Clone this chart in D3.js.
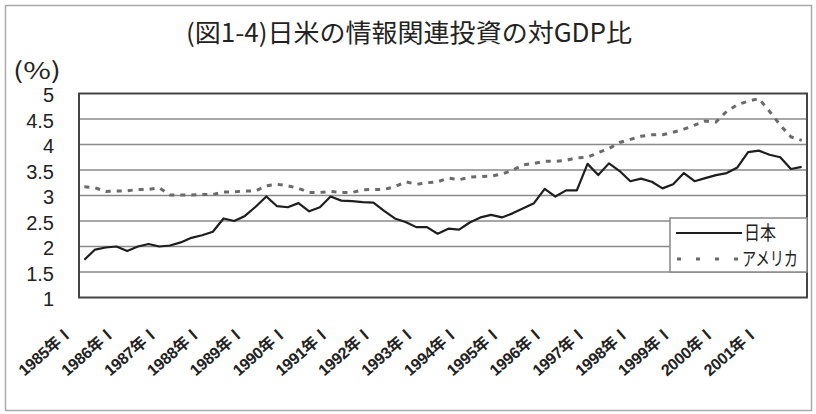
<!DOCTYPE html>
<html>
<head>
<meta charset="utf-8">
<script src="https://cdn.jsdelivr.net/npm/d3@7"></script>
<style>
   body { margin: 0; background: #fff; }
   svg { display: block; font-family: "Noto Sans CJK JP", "Liberation Sans", sans-serif; }
</style>
</head>
<body>
<div id="chart"></div>
<script>
const years = d3.range(1985, 2002),
quarterNames = ['Ⅰ', 'Ⅱ', 'Ⅲ', 'Ⅳ'],
quarters = years.flatMap(y => quarterNames.map(q => y + '年' + q)),
japan = [
   1.74, 1.94, 1.98, 2.0, 1.91, 2.0, 2.05, 2.0, 2.02, 2.08,
   2.17, 2.22, 2.29, 2.55, 2.5, 2.6, 2.78, 2.98, 2.79, 2.77,
   2.85, 2.69, 2.77, 2.98, 2.9, 2.89, 2.87, 2.86, 2.7, 2.55,
   2.48, 2.38, 2.38, 2.25, 2.35, 2.33, 2.47, 2.57, 2.62, 2.57,
   2.65, 2.75, 2.85, 3.13, 2.98, 3.1, 3.1, 3.62, 3.4, 3.63,
   3.48, 3.28, 3.33, 3.27, 3.14, 3.22, 3.44, 3.28, 3.34, 3.4,
   3.44, 3.55, 3.85, 3.88, 3.8, 3.75, 3.52, 3.56
],
usa = [
   3.17, 3.15, 3.08, 3.09, 3.09, 3.12, 3.12, 3.15, 3.01, 3.01,
   3.01, 3.02, 3.02, 3.07, 3.07, 3.09, 3.09, 3.19, 3.22, 3.19,
   3.14, 3.06, 3.06, 3.08, 3.06, 3.06, 3.11, 3.12, 3.12, 3.17,
   3.27, 3.22, 3.25, 3.27, 3.34, 3.31, 3.36, 3.37, 3.38, 3.42,
   3.5, 3.6, 3.63, 3.67, 3.67, 3.69, 3.74, 3.75, 3.84, 3.92,
   4.04, 4.1, 4.16, 4.19, 4.19, 4.24, 4.3, 4.38, 4.46, 4.44,
   4.65, 4.78, 4.85, 4.9, 4.65, 4.38, 4.15, 4.08
],
yTicks = [1, 1.5, 2, 2.5, 3, 3.5, 4, 4.5, 5],
seriesNames = ['日本', 'アメリカ'],
chartTitle = '(図1-4)日米の情報関連投資の対GDP比',
width = 816,
height = 414,
plotLeft = 79,
plotRight = 807,
plotTop = 93.5,
plotBottom = 297.5;

const x = d3.scaleBand().domain(quarters).range([plotLeft, plotRight]).padding(0),
y = d3.scaleLinear().domain([1, 5]).range([plotBottom, plotTop]),
cx = d => x(d) + x.bandwidth() / 2;

const svg = d3.select('#chart')
   .append('svg')
   .attr('width', width)
   .attr('height', height);

// outer frame of the figure
svg.append('rect')
   .attr('x', 5.5)
   .attr('y', 5.5)
   .attr('width', 806)
   .attr('height', 405)
   .attr('fill', '#fff')
   .attr('stroke', '#aaa')
   .attr('stroke-width', 1.5);

svg.append('text')
   .attr('x', 409)
   .attr('y', 42)
   .attr('text-anchor', 'middle')
   .attr('font-size', 25)
   .attr('textLength', 446)
   .attr('lengthAdjust', 'spacingAndGlyphs')
   .attr('fill', '#222')
   .text(chartTitle);

svg.append('text')
   .attr('x', 13)
   .attr('y', 79)
   .attr('font-size', 23)
   .attr('textLength', 48)
   .attr('lengthAdjust', 'spacingAndGlyphs')
   .attr('fill', '#222')
   .text('(%)');

// gridlines
svg.append('g')
   .selectAll('line')
   .data(yTicks.slice(1, -1))
   .join('line')
   .attr('x1', plotLeft)
   .attr('x2', plotRight)
   .attr('y1', d => y(d))
   .attr('y2', d => y(d))
   .attr('stroke', '#8a8a8a')
   .attr('stroke-width', 1.5);

// y axis labels
svg.append('g')
   .attr('transform', `translate(${plotLeft - 22},0)`)
   .call(d3.axisLeft(y).tickValues(yTicks).tickSize(0).tickFormat(d3.format('')))
   .call(g => g.select('.domain').remove())
   .selectAll('text')
   .attr('dy', '0.42em')
   .attr('font-family', '"Liberation Sans", Arial, sans-serif')
   .attr('font-size', 20)
   .attr('fill', '#222');

// x axis labels, one per year
const xAxis = svg.append('g')
   .attr('transform', `translate(0,${plotBottom})`)
   .call(d3.axisBottom(x).tickValues(quarters.filter((d, i) => i % 4 === 0)).tickSize(0));

xAxis.select('.domain').remove();

xAxis.selectAll('text')
   .attr('text-anchor', 'end')
   .attr('font-family', '"Liberation Sans", "Noto Sans CJK JP", sans-serif')
   .attr('font-size', 16)
   .attr('font-weight', 'bold')
   .attr('textLength', 66)
   .attr('fill', '#222')
   .attr('y', 0)
   .attr('dy', 0)
   .attr('transform', 'translate(-10,36) rotate(-41)');

// plot frame
svg.append('rect')
   .attr('x', plotLeft)
   .attr('y', plotTop)
   .attr('width', plotRight - plotLeft)
   .attr('height', plotBottom - plotTop)
   .attr('fill', 'none')
   .attr('stroke', '#444')
   .attr('stroke-width', 2);

const line = d3.line()
   .x((d, i) => cx(quarters[i]))
   .y(d => y(d));

svg.append('path')
   .datum(usa)
   .attr('d', line)
   .attr('fill', 'none')
   .attr('stroke', '#6a6a6a')
   .attr('stroke-width', 3)
   .attr('stroke-dasharray', '5,6');

svg.append('path')
   .datum(japan)
   .attr('d', line)
   .attr('fill', 'none')
   .attr('stroke', '#1e1e1e')
   .attr('stroke-width', 2.2)
   .attr('stroke-linejoin', 'round');

// legend
const legend = svg.append('g')
   .attr('transform', 'translate(670,218)');

legend.append('rect')
   .attr('width', 137)
   .attr('height', 54)
   .attr('fill', '#fff')
   .attr('stroke', '#888')
   .attr('stroke-width', 1.5);

const legendItems = legend.selectAll('g')
   .data(seriesNames)
   .join('g')
   .attr('transform', (d, i) => `translate(0,${15 + i * 26})`);

legendItems.append('line')
   .attr('x1', (d, i) => i === 0 ? 6 : 7)
   .attr('x2', 72)
   .attr('stroke', (d, i) => i === 0 ? '#1e1e1e' : '#6a6a6a')
   .attr('stroke-width', (d, i) => i === 0 ? 2 : 3)
   .attr('stroke-dasharray', (d, i) => i === 0 ? null : '4,15');

legendItems.append('text')
   .attr('x', (d, i) => i === 0 ? 74 : 72)
   .attr('dy', '0.36em')
   .attr('font-size', 19)
   .attr('textLength', (d, i) => i === 0 ? 32 : 56)
   .attr('lengthAdjust', 'spacingAndGlyphs')
   .attr('fill', '#222')
   .text(d => d);
</script>
</body>
</html>
